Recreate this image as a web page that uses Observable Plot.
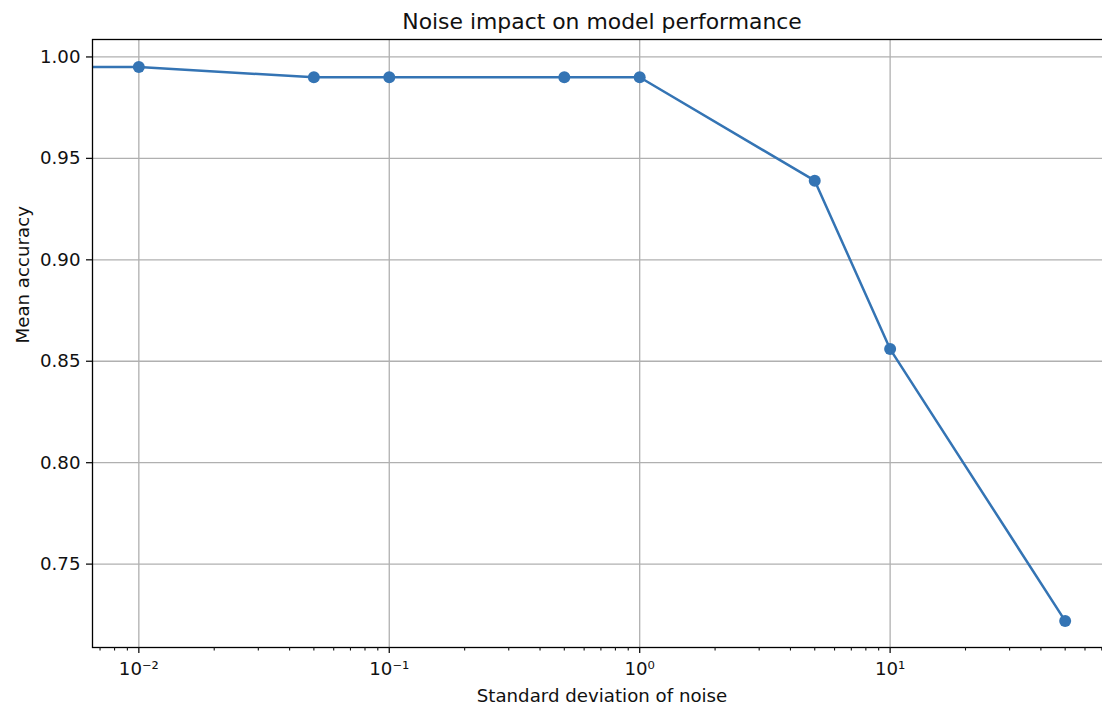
<!DOCTYPE html>
<html><head><meta charset="utf-8">
<script src="https://cdn.jsdelivr.net/npm/d3@7"></script>
<script src="https://cdn.jsdelivr.net/npm/@observablehq/plot@0.6"></script>
<style>html,body{margin:0;padding:0;overflow:hidden;background:#fff;width:1102px;height:709px}
#chart svg{max-width:none !important}</style>
</head><body><div id="chart"></div>
<script>
const noiseStd = [0, 0.01, 0.05, 0.1, 0.5, 1, 5, 10, 50];
const meanAccuracy = [0.995, 0.995, 0.99, 0.99, 0.99, 0.99, 0.939, 0.856, 0.722];
const xMajorTicks = [0.01, 0.1, 1, 10];
const xTickLabels = ["10\u207B\u00B2", "10\u207B\u00B9", "10\u2070", "10\u00B9"];
const xMinorTicks = [0.007, 0.008, 0.009, 0.02, 0.03, 0.04, 0.05, 0.06, 0.07, 0.08, 0.09,
  0.2, 0.3, 0.4, 0.5, 0.6, 0.7, 0.8, 0.9, 2, 3, 4, 5, 6, 7, 8, 9, 20, 30, 40, 50, 60, 70];
const yTicks = [0.75, 0.80, 0.85, 0.90, 0.95, 1.00];
const titleText = "Noise impact on model performance";
const xLabel = "Standard deviation of noise";
const yLabel = "Mean accuracy";

const xDomain = [0.006531, 76.56];
const yDomain = [0.7089, 1.0086];
const color = "#3474b4";
const data = noiseStd.map((x, i) => ({x, y: meanAccuracy[i]}));

const chart = Plot.plot({
  width: 1126, height: 709,
  marginLeft: 92, marginRight: 15, marginTop: 39, marginBottom: 62,
  style: {fontFamily: "'DejaVu Sans', sans-serif", fontSize: "18.2px", color: "#111", background: "#fff", overflow: "visible", maxWidth: "none"},
  x: {type: "log", domain: xDomain, label: null},
  y: {domain: yDomain, label: null},
  marks: [
    Plot.gridX(xMajorTicks, {stroke: "#b0b0b0", strokeOpacity: 1, strokeWidth: 1.3}),
    Plot.gridY(yTicks, {stroke: "#b0b0b0", strokeOpacity: 1, strokeWidth: 1.3}),
    Plot.line(data, {x: d => Math.max(d.x, xDomain[0]), y: "y", stroke: color, strokeWidth: 2.5, clip: true}),
    Plot.dot(data.filter(d => d.x > 0), {x: "x", y: "y", r: 6, fill: color}),
    Plot.frame({stroke: "#000", strokeWidth: 1.3}),
    Plot.axisY(yTicks, {tickSize: 6, tickPadding: 6, tickFormat: d3.format(".2f"), strokeWidth: 1.3, fontSize: 18.2, label: null}),
    Plot.axisX(xMinorTicks, {tickSize: 3.5, tickFormat: () => "", strokeWidth: 1.1, label: null}),
    Plot.axisX(xMajorTicks, {tickSize: 6, tickPadding: 9, tickFormat: d => xTickLabels[xMajorTicks.indexOf(d)], strokeWidth: 1.3, fontSize: 18.2, label: null}),
    Plot.text([titleText], {frameAnchor: "top", lineAnchor: "middle", dy: -18, fontSize: 21.9, textAnchor: "middle", fill: "#111"}),
    Plot.text([xLabel], {frameAnchor: "bottom", lineAnchor: "middle", dy: 48.9, fontSize: 18.2, fill: "#111"}),
    Plot.text([yLabel], {frameAnchor: "left", lineAnchor: "middle", dx: -69.5, rotate: -90, fontSize: 18.2, fill: "#111"})
  ]
});
document.getElementById("chart").appendChild(chart);
</script>
</body></html>
